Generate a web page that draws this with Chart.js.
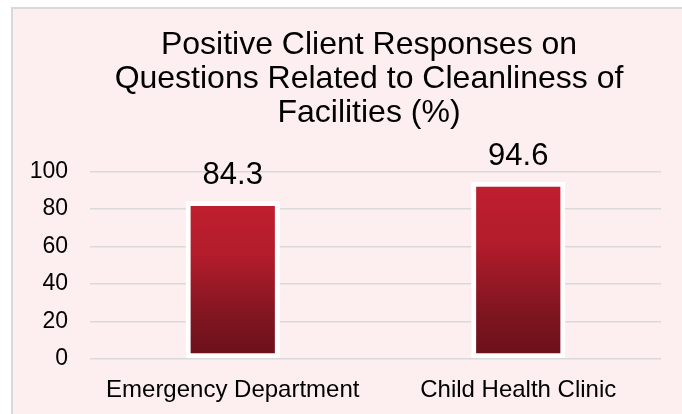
<!DOCTYPE html>
<html><head><meta charset="utf-8">
<script src="https://cdn.jsdelivr.net/npm/chart.js@4.4.0/dist/chart.umd.min.js"></script>
<style>
html,body{margin:0;padding:0;background:#fff;overflow:hidden;width:682px;height:414px;}
#box{position:absolute;left:11px;top:7px;width:760px;height:430px;border-left:2px solid #d9d9d9;border-top:2px solid #d9d9d9;background:#FDEEEF;}
#c{position:absolute;left:0;top:0;}
</style></head><body>
<div id="box"><canvas id="c" width="712" height="405"></canvas></div>
<script>
const categories = ['Emergency Department', 'Child Health Clinic'];
const values = [84.3, 94.6];
const yTickStep = 20;
const yMin = 0;
const yMax = 100;
const titleLines = ['Positive Client Responses on', 'Questions Related to Cleanliness of', 'Facilities (%)'];

const FONT = '"Liberation Sans", Arial, Helvetica, sans-serif';
Chart.defaults.font.family = FONT;
Chart.defaults.color = '#000';

function barGradient(ctx) {
  const chart = ctx.chart;
  const area = chart.chartArea;
  if (!area || ctx.dataIndex === undefined) return '#A81B29';
  const ys = chart.scales.y;
  const y0 = ys.getPixelForValue(0);
  const y1 = ys.getPixelForValue(values[ctx.dataIndex]);
  const g = chart.ctx.createLinearGradient(0, y1, 0, y0);
  g.addColorStop(0, '#C11F30');
  g.addColorStop(0.35, '#B21C2B');
  g.addColorStop(0.75, '#7E1520');
  g.addColorStop(1, '#6A1019');
  return g;
}

const valueLabels = {
  id: 'valueLabels',
  afterDatasetsDraw(chart) {
    const c = chart.ctx;
    const meta = chart.getDatasetMeta(0);
    c.save();
    c.font = '31px ' + FONT;
    c.fillStyle = '#000';
    c.textAlign = 'center';
    c.textBaseline = 'alphabetic';
    meta.data.forEach((bar, i) => {
      c.fillText(String(values[i]), bar.x, bar.y - 17);
    });
    c.restore();
  }
};

new Chart(document.getElementById('c'), {
  type: 'bar',
  data: {
    labels: categories,
    datasets: [{
      data: values,
      backgroundColor: barGradient,
      borderColor: '#ffffff',
      borderWidth: 5,
      borderSkipped: false,
      barPercentage: 0.33,
      categoryPercentage: 1
    }]
  },
  options: {
    responsive: false,
    animation: false,
    devicePixelRatio: 1,
    layout: { padding: { left: 0, right: 0, top: 0, bottom: 0 } },
    plugins: {
      legend: { display: false },
      tooltip: { enabled: false },
      title: {
        display: true,
        text: titleLines,
        color: '#000',
        font: { size: 32, weight: 'normal', lineHeight: 34.2 / 32 },
        padding: { top: 19, bottom: 41 }
      }
    },
    scales: {
      x: {
        grid: { display: false },
        border: { display: false },
        ticks: { font: { size: 24 }, color: '#000', padding: 9, maxRotation: 0 },
        afterFit(scale) { scale.height = 55; }
      },
      y: {
        min: yMin,
        max: yMax,
        grid: { color: '#d9d9d9', lineWidth: 1.5, drawTicks: false },
        border: { display: false },
        ticks: { stepSize: yTickStep, font: { size: 23 }, color: '#000', padding: 22 },
        afterFit(scale) { scale.width = 77; }
      },
      yPad: {
        position: 'right',
        display: true,
        grid: { display: false },
        border: { display: false },
        ticks: { display: false },
        afterFit(scale) { scale.width = 64; }
      }
    }
  },
  plugins: [valueLabels]
});
</script>
</body></html>
